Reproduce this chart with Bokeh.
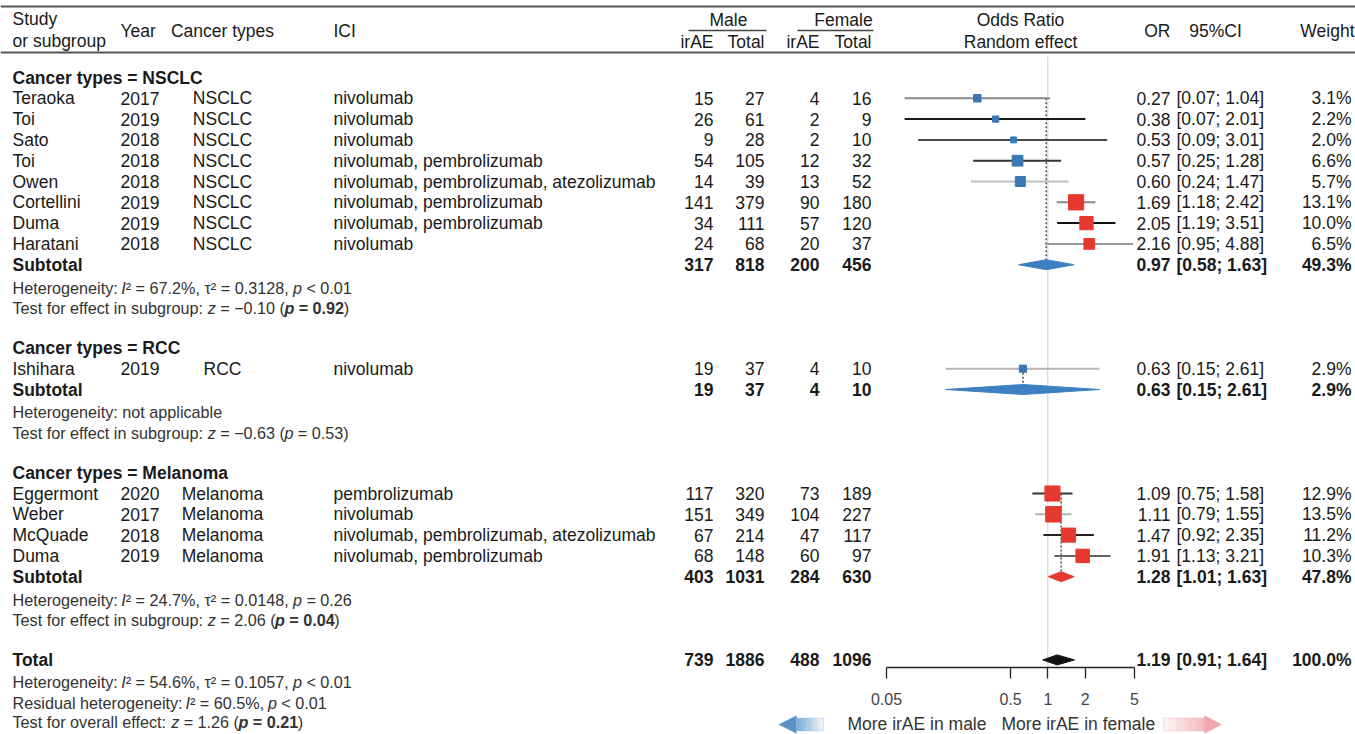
import math
from bokeh.plotting import figure
from bokeh.models import (Range1d, LabelSet, ColumnDataSource, FixedTicker, PolyAnnotation,
                          BoxAnnotation, Span, CustomJSTickFormatter)
from bokeh.core.properties import value
from bokeh.embed import file_html
from bokeh.resources import INLINE

# ------------------------------------------------------------------ data
nsclc_study = ["Teraoka", "Toi", "Sato", "Toi", "Owen", "Cortellini", "Duma", "Haratani"]
nsclc_year = ["2017", "2019", "2018", "2018", "2018", "2019", "2019", "2018"]
nsclc_ici = ["nivolumab", "nivolumab", "nivolumab", "nivolumab, pembrolizumab",
             "nivolumab, pembrolizumab, atezolizumab", "nivolumab, pembrolizumab",
             "nivolumab, pembrolizumab", "nivolumab"]
nsclc_male_irae = [15, 26, 9, 54, 14, 141, 34, 24]
nsclc_male_total = [27, 61, 28, 105, 39, 379, 111, 68]
nsclc_female_irae = [4, 2, 2, 12, 13, 90, 57, 20]
nsclc_female_total = [16, 9, 10, 32, 52, 180, 120, 37]
nsclc_or = [0.27, 0.38, 0.53, 0.57, 0.60, 1.69, 2.05, 2.16]
nsclc_lo = [0.07, 0.07, 0.09, 0.25, 0.24, 1.18, 1.19, 0.95]
nsclc_hi = [1.04, 2.01, 3.01, 1.28, 1.47, 2.42, 3.51, 4.88]
nsclc_weight = [3.1, 2.2, 2.0, 6.6, 5.7, 13.1, 10.0, 6.5]
nsclc_sub = [317, 818, 200, 456, 0.97, 0.58, 1.63, 49.3]
nsclc_het = [("Heterogeneity: ", "n"), ("I", "i"), ("\u00b2 = 67.2%, \u03c4\u00b2 = 0.3128, ", "n"),
             ("p ", "i"), ("< 0.01", "n")]
nsclc_test = [("Test for effect in subgroup: ", "n"), ("z ", "i"), ("= \u22120.10 (", "n"),
              ("p ", "bi"), ("= 0.92", "b"), (")", "n")]

rcc_study = ["Ishihara"]
rcc_year = ["2019"]
rcc_ici = ["nivolumab"]
rcc_male_irae = [19]
rcc_male_total = [37]
rcc_female_irae = [4]
rcc_female_total = [10]
rcc_or = [0.63]
rcc_lo = [0.15]
rcc_hi = [2.61]
rcc_weight = [2.9]
rcc_sub = [19, 37, 4, 10, 0.63, 0.15, 2.61, 2.9]
rcc_het = [("Heterogeneity: not applicable", "n")]
rcc_test = [("Test for effect in subgroup: ", "n"), ("z ", "i"), ("= \u22120.63 (", "n"),
            ("p ", "i"), ("= 0.53)", "n")]

mel_study = ["Eggermont", "Weber", "McQuade", "Duma"]
mel_year = ["2020", "2017", "2018", "2019"]
mel_ici = ["pembrolizumab", "nivolumab", "nivolumab, pembrolizumab, atezolizumab",
           "nivolumab, pembrolizumab"]
mel_male_irae = [117, 151, 67, 68]
mel_male_total = [320, 349, 214, 148]
mel_female_irae = [73, 104, 47, 60]
mel_female_total = [189, 227, 117, 97]
mel_or = [1.09, 1.11, 1.47, 1.91]
mel_lo = [0.75, 0.79, 0.92, 1.13]
mel_hi = [1.58, 1.55, 2.35, 3.21]
mel_weight = [12.9, 13.5, 11.2, 10.3]
mel_sub = [403, 1031, 284, 630, 1.28, 1.01, 1.63, 47.8]
mel_het = [("Heterogeneity: ", "n"), ("I", "i"), ("\u00b2 = 24.7%, \u03c4\u00b2 = 0.0148, ", "n"),
           ("p ", "i"), ("= 0.26", "n")]
mel_test = [("Test for effect in subgroup: ", "n"), ("z ", "i"), ("= 2.06 (", "n"),
            ("p ", "bi"), ("= 0.04", "b"), (")", "n")]

total_vals = [739, 1886, 488, 1096, 1.19, 0.91, 1.64, 100.0]
total_het = [("Heterogeneity: ", "n"), ("I", "i"), ("\u00b2 = 54.6%, \u03c4\u00b2 = 0.1057, ", "n"),
             ("p ", "i"), ("< 0.01", "n")]
total_resid = [("Residual heterogeneity: ", "n"), ("I", "i"), ("\u00b2 = 60.5%, ", "n"),
               ("p ", "i"), ("< 0.01", "n")]
total_test = [("Test for overall effect: ", "n"), ("z ", "i"), ("= 1.26 (", "n"),
              ("p ", "bi"), ("= 0.21", "b"), (")", "n")]

tick_values = [0.05, 0.5, 1, 2, 5]
label_left = "More irAE in male"
label_right = "More irAE in female"

groups = [
    dict(name="NSCLC", study=nsclc_study, year=nsclc_year, ici=nsclc_ici, mi=nsclc_male_irae,
         mt=nsclc_male_total, fi=nsclc_female_irae, ft=nsclc_female_total, orr=nsclc_or,
         lo=nsclc_lo, hi=nsclc_hi, w=nsclc_weight, sub=nsclc_sub, het=nsclc_het, test=nsclc_test),
    dict(name="RCC", study=rcc_study, year=rcc_year, ici=rcc_ici, mi=rcc_male_irae,
         mt=rcc_male_total, fi=rcc_female_irae, ft=rcc_female_total, orr=rcc_or,
         lo=rcc_lo, hi=rcc_hi, w=rcc_weight, sub=rcc_sub, het=rcc_het, test=rcc_test),
    dict(name="Melanoma", study=mel_study, year=mel_year, ici=mel_ici, mi=mel_male_irae,
         mt=mel_male_total, fi=mel_female_irae, ft=mel_female_total, orr=mel_or,
         lo=mel_lo, hi=mel_hi, w=mel_weight, sub=mel_sub, het=mel_het, test=mel_test),
]

# ------------------------------------------------------------------ style / layout
FONT = "Liberation Sans"
FS = 17.5     # main font px
FS_S = 16.2   # heterogeneity text px
W, H = 1355, 734
TXT = "#1a1a1a"
TXT2 = "#333333"
BLUE = "#3a78b4"
RED = "#e5392f"
study_line_colors = ["#8a8a8a", "#1a1a1a", "#4a4a4a", "#333333", "#c0c0c0", "#8a8a8a",
                     "#111111", "#9a9a9a", "#b5b5b5", "#333333", "#b0b0b0", "#222222", "#666666"]
diamond_colors = ["#3d80c2", "#3d80c2", "#e5392f"]


def X(ref):
    return ref


def Y(ref):
    return ref


def row_y(r):
    return Y(77 + 20.8 * r)


# log scale calibration (0.05 and 5 tick positions)
PX_A = X(886)
PX_B = X(1134)
DEC = (PX_B - PX_A) / 2.0
log_lo = math.log10(0.05) - PX_A / DEC
log_hi = math.log10(5) + (W - PX_B) / DEC

p = figure(width=W, height=H, x_axis_type="log", y_axis_location=None,
           x_range=Range1d(10 ** log_lo, 10 ** log_hi), y_range=Range1d(H, 0),
           min_border=0, outline_line_color=None, toolbar_location=None,
           output_backend="svg")
p.grid.visible = False
p.background_fill_color = "white"

ax = p.xaxis[0]
ax.fixed_location = Y(667)
ax.bounds = (0.05, 5)
ax.ticker = FixedTicker(ticks=tick_values, minor_ticks=[])
ax.formatter = CustomJSTickFormatter(code="return String(tick);")
ax.axis_line_color = "#222222"
ax.axis_line_width = 1.3
ax.major_tick_line_color = "#222222"
ax.major_tick_line_width = 1.3
ax.major_tick_in = 0
ax.major_tick_out = 11
ax.minor_tick_line_color = None
ax.major_label_standoff = 14
ax.major_label_text_font = FONT
ax.major_label_text_font_size = "16px"
ax.major_label_text_color = "#444444"

# Arial / Liberation Sans advance widths (per 1000 em)
REG_W = {' ': 278, 'T': 611, 'R': 722, 'H': 722, 'I': 278, 'e': 556, 's': 500, 't': 278,
         'f': 278, 'o': 556, 'r': 333, 'c': 500, 'i': 222, 'n': 556, 'u': 556, 'b': 556,
         'g': 556, 'p': 556, ':': 278, 'z': 500, '=': 584, '<': 584, '\u2212': 584, '.': 278,
         '(': 333, ')': 333, 'v': 500, 'a': 556, 'l': 222, ',': 278, 'h': 556, 'y': 500,
         'd': 556, '%': 889, '\u00b2': 333, '\u03c4': 480}
BOLD_W = {' ': 278, 'p': 611, '=': 584, '.': 278}


def text_w(s, size, bold=False):
    tab = BOLD_W if bold else REG_W
    return sum(tab.get(ch, 556) for ch in s) * size / 1000.0 * 0.99


def labels(xs_ref, ys, texts, align="left", size=FS, bold=False, color=TXT, style=None):
    if not isinstance(xs_ref, list):
        xs_ref = [xs_ref] * len(texts)
    if style is None:
        style = "bold" if bold else "normal"
    src = ColumnDataSource(dict(x=[X(v) for v in xs_ref], y=list(ys), t=list(texts)))
    p.add_layout(LabelSet(x="x", y="y", text="t", source=src, x_units="screen", y_units="data",
                          text_align=align, text_baseline="middle", text_font=value(FONT),
                          text_font_size=f"{size}px", text_font_style=style,
                          text_color=color))


STYLE = {"n": "normal", "i": "italic", "b": "bold", "bi": "bold italic"}


def rich(x0, y, pieces, size=FS_S, color=TXT2):
    x = x0
    for txt, st in pieces:
        labels(x, [y], [txt], size=size, color=color, style=STYLE[st])
        x += text_w(txt, size, bold=st.startswith("b"))


# ------------------------------------------------------------------ header
p.add_layout(Span(location=Y(6), dimension="width", line_color="#555555", line_width=2))
p.add_layout(Span(location=Y(52), dimension="width", line_color="#555555", line_width=2))
labels(12, [Y(18)], ["Study"])
labels(12, [Y(40)], ["or subgroup"])
labels(120, [Y(30)], ["Year"])
labels(222, [Y(30)], ["Cancer types"], align="center")
labels(333, [Y(30)], ["ICI"])
labels([728, 843], [Y(19)] * 2, ["Male", "Female"], align="center")
labels([713, 764, 819, 871], [Y(41)] * 4, ["irAE", "Total", "irAE", "Total"], align="right")
for a, b in [(688, 766), (797, 873)]:
    p.add_layout(BoxAnnotation(left=X(a), right=X(b), left_units="screen", right_units="screen",
                               top=Y(30) - 0.8, bottom=Y(30) + 0.8, fill_color="#444444",
                               fill_alpha=1, line_color=None))
labels(1020, [Y(19)], ["Odds Ratio"], align="center")
labels(1020, [Y(41)], ["Random effect"], align="center")
labels(1170, [Y(30)], ["OR"], align="right")
labels(1215, [Y(30)], ["95%CI"], align="center")
labels(1354, [Y(30)], ["Weight"], align="right")

# ------------------------------------------------------------------ rows
st_y, st_or, st_lo, st_hi, st_w = [], [], [], [], []
r = 0
sub_rows = []
for gi, g in enumerate(groups):
    labels(12, [row_y(r)], ["Cancer types = " + g["name"]], bold=True)
    r += 1
    n = len(g["study"])
    ys = [row_y(r + i) for i in range(n)]
    labels(12, ys, g["study"])
    labels(120, ys, g["year"])
    labels(222, ys, [g["name"]] * n, align="center")
    labels(333, ys, g["ici"])
    labels(713, ys, [str(v) for v in g["mi"]], align="right")
    labels(764, ys, [str(v) for v in g["mt"]], align="right")
    labels(819, ys, [str(v) for v in g["fi"]], align="right")
    labels(871, ys, [str(v) for v in g["ft"]], align="right")
    labels(1170, ys, [f"{v:.2f}" for v in g["orr"]], align="right")
    labels(1176, ys, [f"[{a:.2f}; {b:.2f}]" for a, b in zip(g["lo"], g["hi"])])
    labels(1351, ys, [f"{v:.1f}%" for v in g["w"]], align="right")
    st_y += ys
    st_or += g["orr"]
    st_lo += g["lo"]
    st_hi += g["hi"]
    st_w += g["w"]
    first_y = ys[0]
    r += n
    sy = row_y(r)
    s = g["sub"]
    labels(12, [sy], ["Subtotal"], bold=True)
    labels([713, 764, 819, 871], [sy] * 4, [str(v) for v in s[:4]], align="right", bold=True)
    labels(1170, [sy], [f"{s[4]:.2f}"], align="right", bold=True)
    labels(1176, [sy], [f"[{s[5]:.2f}; {s[6]:.2f}]"], bold=True)
    labels(1351, [sy], [f"{s[7]:.1f}%"], align="right", bold=True)
    sub_rows.append((first_y, sy, s[4], s[5], s[6], diamond_colors[gi]))
    r += 1
    rich(12, row_y(r) + 2, g["het"])
    r += 1
    rich(12, row_y(r) + 1.5, g["test"])
    r += 2

# total
ty = row_y(r)
labels(12, [ty], ["Total"], bold=True)
labels([713, 764, 819, 871], [ty] * 4, [str(v) for v in total_vals[:4]], align="right", bold=True)
labels(1170, [ty], [f"{total_vals[4]:.2f}"], align="right", bold=True)
labels(1176, [ty], [f"[{total_vals[5]:.2f}; {total_vals[6]:.2f}]"], bold=True)
labels(1351, [ty], [f"{total_vals[7]:.1f}%"], align="right", bold=True)
total_row_y = ty
rich(12, row_y(r + 1) + 1.5, total_het)
rich(12, row_y(r + 2) + 1, total_resid)
rich(12, row_y(r + 3), total_test)

# ------------------------------------------------------------------ forest
# null line
p.segment(x0=[1], y0=[Y(56)], x1=[1], y1=[Y(667)], line_color="#cfcfcf", line_width=1)

# subgroup estimate dotted lines
for (fy, sy, est, lo, hi, col) in sub_rows:
    p.segment(x0=[est], y0=[fy], x1=[est], y1=[sy], line_color="#333333", line_width=1.3,
              line_dash="2 2")

src = ColumnDataSource(dict(y=st_y, orr=st_or, lo=st_lo, hi=st_hi,
                            lc=study_line_colors[:len(st_y)],
                            fc=[BLUE if v < 1 else RED for v in st_or],
                            sz=[4.2 * math.sqrt(w) for w in st_w]))
p.segment(x0="lo", y0="y", x1="hi", y1="y", line_color="lc", line_width=2, source=src)
p.scatter(x="orr", y="y", size="sz", marker="square", fill_color="fc", line_color="fc",
          source=src)

dx, dy, dc = [], [], []
HH = 5
for (fy, sy, est, lo, hi, col) in sub_rows:
    dx.append([lo, est, hi, est])
    dy.append([sy, sy - HH, sy, sy + HH])
    dc.append(col)
dx.append([total_vals[5], total_vals[4], total_vals[6], total_vals[4]])
dy.append([total_row_y, total_row_y - HH, total_row_y, total_row_y + HH])
dc.append("#111111")
p.patches(xs=dx, ys=dy, fill_color=dc, line_color=dc, line_width=1)


# ------------------------------------------------------------------ direction legend
def mix(c1, c2, t):
    a = [int(c1[i:i + 2], 16) for i in (1, 3, 5)]
    b = [int(c2[i:i + 2], 16) for i in (1, 3, 5)]
    return "#" + "".join(f"{int(round(a[k] + (b[k] - a[k]) * t)):02x}" for k in range(3))


def arrow(tip, base, end, yc, hh, bh, head_c, body_from, body_to, outline):
    nsl = 10
    for k in range(nsl):
        t = (k + 0.5) / nsl
        a = base + (end - base) * k / nsl
        b = base + (end - base) * (k + 1) / nsl
        p.add_layout(BoxAnnotation(left=X(min(a, b)), right=X(max(a, b)) + 0.5,
                                   left_units="screen", right_units="screen",
                                   top=Y(yc - bh), bottom=Y(yc + bh),
                                   fill_color=mix(body_from, body_to, t), fill_alpha=1,
                                   line_color=None))
    p.add_layout(PolyAnnotation(xs=[X(tip), X(base), X(base)],
                                ys=[Y(yc), Y(yc - hh), Y(yc + hh)],
                                xs_units="screen", ys_units="data",
                                fill_color=head_c, fill_alpha=1, line_color=None))
    p.add_layout(PolyAnnotation(xs=[X(tip), X(base), X(base), X(end), X(end), X(base), X(base)],
                                ys=[Y(yc), Y(yc - hh), Y(yc - bh), Y(yc - bh), Y(yc + bh),
                                    Y(yc + bh), Y(yc + hh)],
                                xs_units="screen", ys_units="data",
                                fill_alpha=0, line_color=outline, line_width=1))


arrow(778, 796, 823, 724, 9, 6.5, "#5b93c8", "#79a9d6", "#f3f7fb", "#8fb3d6")
arrow(1221, 1204, 1163, 724, 9, 6.5, "#f2a7ae", "#f4b7bd", "#fdf5f6", "#e9a0a8")
labels(986, [Y(723)], [label_left], align="right", color=TXT2)
labels(1001, [Y(723)], [label_right], color=TXT2)

open("out.html", "w").write(file_html(p, INLINE))
